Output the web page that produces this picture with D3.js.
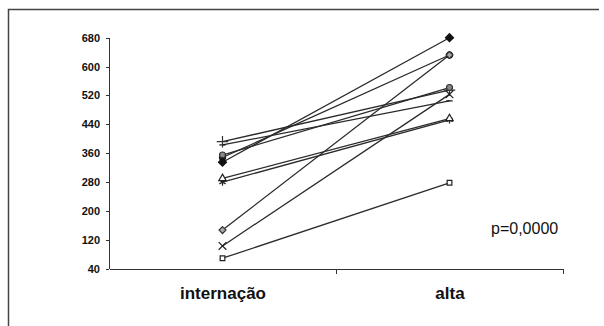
<html>
<head>
<meta charset="utf-8">
<script src="https://d3js.org/d3.v7.min.js"></script>
<style>
body { margin: 0; background: #fff; }
.axis path, .axis line { stroke: #333; shape-rendering: crispEdges; }
.axis--y text { font-family: "Liberation Sans", Arial, sans-serif; font-weight: bold; font-size: 11px; fill: #111; }
.axis--x text { font-family: "Liberation Sans", Arial, sans-serif; font-weight: bold; font-size: 17px; fill: #111; }
.serie { fill: none; stroke: #2a2a2a; stroke-width: 1.3; }
.pval { font-family: "Liberation Sans", Arial, sans-serif; font-size: 16px; fill: #111; }
</style>
</head>
<body>
<svg width="604" height="326"></svg>
<script>
// categorias e valores (internação -> alta), um paciente por posição
var categorias = ["internação", "alta"];
var internacao = [335, 69, 290, 103, 280, 355, 392, 147, 383, 348];
var alta       = [680, 278, 456, 523, 452, 542, 535, 632, 505, 632];
var yTicks = [40, 120, 200, 280, 360, 440, 520, 600, 680];
var pTexto = "p=0,0000";

var svg = d3.select("svg");

// moldura (só topo e esquerda aparecem no original)
svg.append("path")
    .attr("d", "M8.5,326 L8.5,9.5 L599,9.5")
    .attr("fill", "none")
    .attr("stroke", "#444")
    .attr("stroke-width", 1.5);

var plotL = 109, plotR = 563, plotT = 37.7, plotB = 268.7;

var x = d3.scalePoint().domain(categorias).range([plotL, plotR]).padding(0.5);
var xb = d3.scaleLinear().domain([0, 2]).range([plotL, plotR]);
var y = d3.scaleLinear().domain([40, 680]).range([plotB, plotT]);

svg.append("g")
    .attr("class", "axis axis--y")
    .attr("transform", "translate(" + plotL + ",0)")
    .call(d3.axisLeft(y).tickValues(yTicks).tickSize(3).tickSizeOuter(0).tickPadding(6));

// linha do eixo x com marcas nas divisões
svg.append("g")
    .attr("class", "axis")
    .attr("transform", "translate(0," + plotB + ")")
    .call(d3.axisBottom(xb).tickValues([1, 2]).tickSize(5).tickSizeOuter(0).tickFormat(""));

svg.append("g")
    .attr("class", "axis axis--x")
    .attr("transform", "translate(0," + plotB + ")")
    .call(d3.axisBottom(x).tickSize(0).tickPadding(18))
    .call(function(g) { g.select(".domain").remove(); });

var dados = internacao.map(function(v, i) {
  return [{c: categorias[0], v: v}, {c: categorias[1], v: alta[i]}];
});

var line = d3.line()
    .x(function(d) { return x(d.c); })
    .y(function(d) { return y(d.v); });

svg.selectAll(".serie")
  .data(dados)
  .enter().append("path")
    .attr("class", "serie")
    .attr("d", line);

// marcadores estilo Excel em tons de cinza
var dash = { draw: function(ctx, size) { var r = Math.sqrt(size) / 2; ctx.moveTo(-r, 0); ctx.lineTo(r, 0); } };
var losango = { draw: function(ctx, size) { var r = Math.sqrt(size) / 2; ctx.moveTo(0, -r); ctx.lineTo(r, 0); ctx.lineTo(0, r); ctx.lineTo(-r, 0); ctx.closePath(); } };
var estilos = [
  {t: losango, s: 64, fill: "#111", stroke: "#111"},
  {t: d3.symbolSquare, s: 22, fill: "#fff", stroke: "#222"},
  {t: d3.symbolTriangle, s: 24, fill: "#fff", stroke: "#222"},
  {t: d3.symbolTimes, s: 40, fill: "none", stroke: "#222"},
  {t: d3.symbolAsterisk, s: 36, fill: "none", stroke: "#222"},
  {t: d3.symbolCircle, s: 28, fill: "#888", stroke: "#333"},
  {t: d3.symbolPlus, s: 45, fill: "none", stroke: "#333"},
  {t: losango, s: 48, fill: "#aaa", stroke: "#333"},
  {t: dash, s: 40, fill: "none", stroke: "#111"},
  {t: d3.symbolCircle, s: 30, fill: "#333", stroke: "#111"}
];

// desenha de trás para frente para que os primeiros fiquem por cima
dados.slice().reverse().forEach(function(serie, k) {
  var i = dados.length - 1 - k;
  var e = estilos[i];
  svg.selectAll(".m" + i)
    .data(serie)
    .enter().append("path")
      .attr("class", "m" + i)
      .attr("transform", function(d) { return "translate(" + x(d.c) + "," + y(d.v) + ")"; })
      .attr("d", d3.symbol().type(e.t).size(e.s))
      .attr("fill", e.fill)
      .attr("stroke", e.stroke)
      .attr("stroke-width", 1.2);
});

svg.append("text")
    .attr("class", "pval")
    .attr("x", 491)
    .attr("y", 234)
    .text(pTexto);
</script>
</body>
</html>
